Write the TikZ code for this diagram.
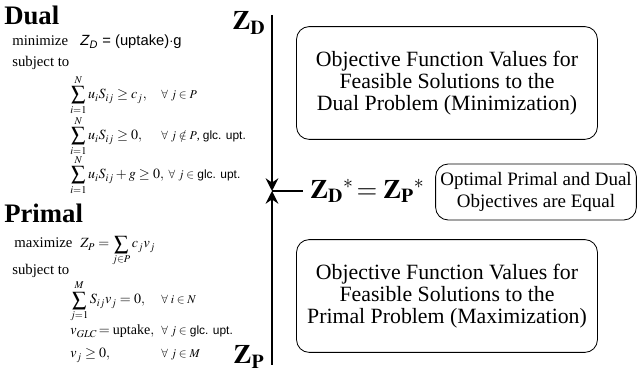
\documentclass[tikz,border=0pt]{standalone}
\usepackage{amsmath, amssymb}
\usepackage{mathptmx}
\usepackage{fontspec}
\setmainfont{Liberation Serif}
\setsansfont{Liberation Sans}
\usetikzlibrary{arrows.meta}

\begin{document}
\begin{tikzpicture}[x=0.025cm, y=-0.025cm,
  head/.style={anchor=west, inner sep=0pt, font=\fontsize{19}{21}\selectfont\bfseries},
  lp/.style={anchor=base west, inner sep=0pt, font=\fontsize{10.5}{13}\selectfont},
  sumrow/.style={lp, font=\fontsize{10}{12}\selectfont},
  cond/.style={anchor=base west, inner sep=0pt, font=\fontsize{8.5}{10}\selectfont},
  bigz/.style={inner sep=1pt, font=\fontsize{19}{21}\selectfont},
  valbox/.style={draw, rounded corners=9pt, line width=0.6pt, align=center,
    font=\fontsize{15.5}{15.8}\selectfont, minimum width=7.52cm, minimum height=2.82cm},
  axis/.style={line width=2pt},
  meet/.style={axis, -{Stealth[length=9pt, width=9pt, inset=3pt]}}]
\useasboundingbox (0,0) rectangle (640,380);

% Dual problem
\node[head] (dual) at (4,15) {Dual};
\node[lp] (dmin) at (12,46) {minimize};
\node[lp] (dobj) at (80,46) {\sffamily\textit{Z}$_{\textit{D}}$ = (uptake)$\cdot$g};
\node[lp] (dsub) at (12,67) {subject to};
\node[sumrow] (d1) at (70,99) {$\displaystyle\sum_{i=1}^{N} u_i S_{ij} \ge c_j,$};
\node[cond] (d1c) at (161,99) {$\forall\ j \in P$};
\node[sumrow] (d2) at (70,140) {$\displaystyle\sum_{i=1}^{N} u_i S_{ij} \ge 0,$};
\node[cond] (d2c) at (161,140) {$\forall\ j \notin P$, \textsf{glc. upt.}};
\node[sumrow] (d3) at (70,179) {$\displaystyle\sum_{i=1}^{N} u_i S_{ij} + g \ge 0,$};
\node[cond] (d3c) at ([xshift=3pt]d3.base east) {$\forall\ j \in$ \textsf{glc. upt.}};

% Primal problem
\node[head] (primal) at (4,213) {Primal};
\node[lp] (pmax) at (14,248) {maximize};
\node[sumrow] (pobj) at (80,248) {$Z_P = \displaystyle\sum_{j\in P} c_j v_j$};
\node[lp] (psub) at (12,275) {subject to};
\node[sumrow] (p1) at (70,304) {$\displaystyle\sum_{j=1}^{M} S_{ij} v_j = 0,$};
\node[cond] (p1c) at (161,304) {$\forall\ i \in N$};
\node[sumrow] (p2) at (70,335) {$v_{GLC}\!=\text{uptake},$};
\node[cond] (p2c) at (161,335) {$\forall\ j \in$ \textsf{glc. upt.}};
\node[sumrow] (p3) at (70,358) {$v_j \ge 0,$};
\node[cond] (p3c) at (161,358) {$\forall\ j \in M$};

% objective axis
\node[bigz] (zd) at (249,23) {$\mathbf{Z}_{\mathbf{D}}$};
\node[bigz] (zp) at (249,357) {$\mathbf{Z}_{\mathbf{P}}$};
\coordinate (top) at (272,15);
\coordinate (bot) at (272,365);
\coordinate (opt) at (272,191);
\draw[meet] (top) -- (opt);
\draw[meet] (bot) -- (opt);
\node[bigz, anchor=west, inner sep=5pt] (eq) at (303,191) {$\mathbf{Z}_{\mathbf{D}}{}^{*}\!= \mathbf{Z}_{\mathbf{P}}{}^{*}$};
\draw[line width=1.5pt] (opt) -- (eq.west);

% value boxes
\node[valbox] (dualval) at (447,83) {Objective Function Values for\\Feasible Solutions to the\\Dual Problem (Minimization)};
\node[valbox] (primval) at (447,296) {Objective Function Values for\\Feasible Solutions to the\\Primal Problem (Maximization)};
\node[valbox, minimum width=4.97cm, minimum height=1.4cm, font=\fontsize{13.5}{15.5}\selectfont] (optval) at (536,192) {Optimal Primal and Dual\\Objectives are Equal};
\end{tikzpicture}
\end{document}
